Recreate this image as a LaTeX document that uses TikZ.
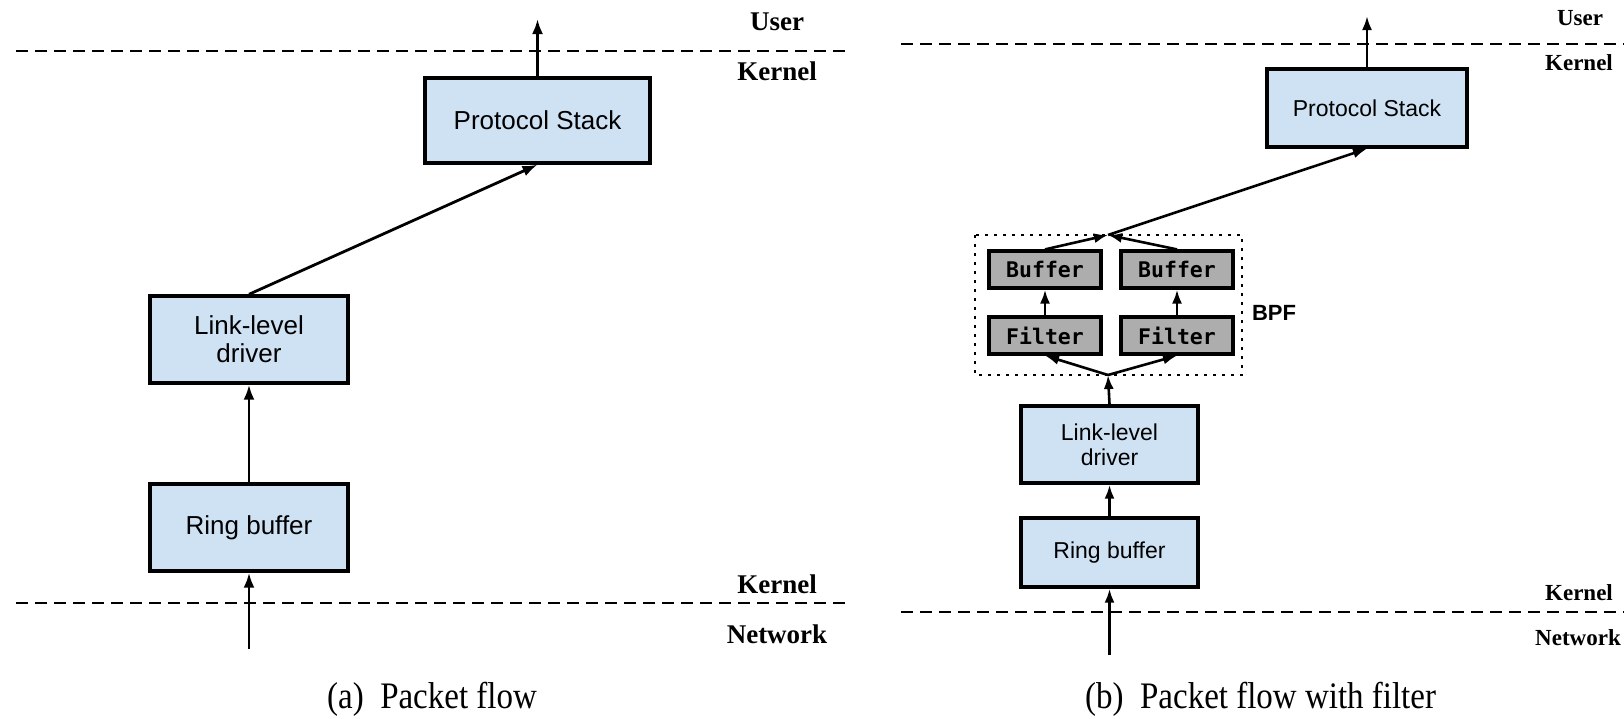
\documentclass[tikz,border=0pt]{standalone}
\usepackage{fontspec}
\setmainfont{Liberation Serif}
\newfontfamily\boxfont{Liberation Sans}
\newfontfamily\monofont{DejaVu Sans Mono}
\usetikzlibrary{arrows.meta}
\definecolor{boxblue}{HTML}{CFE2F3}
\definecolor{boxgray}{HTML}{ADADAD}
\begin{document}
\begin{tikzpicture}[x=1pt,y=-1pt,
  bluebox/.style={draw=black,line width=3.4pt,fill=boxblue,inner sep=0pt,align=center},
  graybox/.style={draw=black,line width=3.2pt,fill=boxgray,inner sep=0pt,
     minimum width=112pt,minimum height=37pt,font=\monofont\bfseries\fontsize{21.5}{24}\selectfont},
  flow/.style={line width=2.8pt,-{Latex[length=15pt,width=11pt]}},
  flowb/.style={line width=2.6pt,-{Latex[length=14pt,width=10pt]}},
  layer/.style={line width=2.8pt,dash pattern=on 12pt off 7pt},
  lbl/.style={font=\bfseries\fontsize{27}{30}\selectfont,inner sep=0pt},
  lblb/.style={font=\bfseries\fontsize{23}{26}\selectfont,inner sep=0pt},
  captxt/.style={font=\fontsize{34}{36}\selectfont,inner sep=0pt}
]
\useasboundingbox (0,0) rectangle (1624,718);
% ---------- left panel ----------
\draw[layer] (16,51) -- (847,51);
\draw[layer] (16,603) -- (847,603);
\node[lbl] (user1) at (777,22) {User};
\node[lbl] (kern1) at (777,71) {Kernel};
\node[lbl] (kern1b) at (777,584) {Kernel};
\node[lbl] (net1) at (777,634) {Network};
\node[bluebox,minimum width=225pt,minimum height=85pt,font=\boxfont\fontsize{26}{28}\selectfont] (ps1) at (537.5,120.5) {Protocol Stack};
\node[bluebox,minimum width=198pt,minimum height=87pt,font=\boxfont\fontsize{26}{28}\selectfont] (ll1) at (249,339.5) {Link-level\\driver};
\node[bluebox,minimum width=198pt,minimum height=87pt,font=\boxfont\fontsize{26}{28}\selectfont] (rb1) at (249,527.5) {Ring buffer};
\coordinate (top1) at (537.5,19);
\coordinate (in1) at (249,649);
\draw[flow] (ps1.north) -- (top1);
\draw[flow] (ll1.north) -- (ps1.south);
\draw[flow] (rb1.north) -- (ll1.south);
\draw[flow] (in1) -- (rb1.south);
\node[captxt] (capa) at (432,699) {\scalebox{0.97}[1.1]{(a)\hspace{0.5em}Packet flow}};
% ---------- right panel ----------
\draw[layer] (901,44) -- (1624,44);
\draw[layer] (901,612) -- (1624,612);
\node[lblb] (user2) at (1580,18) {User};
\node[lblb] (kern2) at (1579,63) {Kernel};
\node[lblb] (kern2b) at (1579,593) {Kernel};
\node[lblb,anchor=west] (net2) at (1535,638) {Network};
\node[bluebox,minimum width=200pt,minimum height=78pt,font=\boxfont\fontsize{23}{25}\selectfont] (ps2) at (1367,108) {Protocol Stack};
\node[bluebox,minimum width=177pt,minimum height=77pt,font=\boxfont\fontsize{23}{25}\selectfont] (ll2) at (1109.5,444.5) {Link-level\\driver};
\node[bluebox,minimum width=177pt,minimum height=69pt,font=\boxfont\fontsize{23}{25}\selectfont] (rb2) at (1109.5,552.5) {Ring buffer};
\draw[line width=2.8pt,dash pattern=on 2.8pt off 6.2pt] (975,235) rectangle (1242,375);
\node[font=\boxfont\bfseries\fontsize{22}{24}\selectfont,inner sep=0pt] (bpf) at (1274,313) {BPF};
\node[graybox] (bufl) at (1045,269.5) {Buffer};
\node[graybox] (bufr) at (1177,269.5) {Buffer};
\node[graybox] (fill) at (1045,335.5) {Filter};
\node[graybox] (filr) at (1177,335.5) {Filter};
\coordinate (jt) at (1108,235);
\coordinate (jb) at (1108,375);
\coordinate (top2) at (1367,16);
\coordinate (in2) at (1109.5,655);
\draw[flowb] (ps2.north) -- (top2);
\draw[flowb] (jt) -- (ps2.south);
\draw[flowb] (bufl.north) -- (jt);
\draw[flowb] (bufr.north) -- (jt);
\draw[flowb] (fill.north) -- (bufl.south);
\draw[flowb] (filr.north) -- (bufr.south);
\draw[flowb] (jb) -- (fill.south);
\draw[flowb] (jb) -- (filr.south);
\draw[flowb] (ll2.north) -- (jb);
\draw[flowb] (rb2.north) -- (ll2.south);
\draw[flowb] (in2) -- (rb2.south);
\node[captxt,anchor=west] (capb) at (1085,699) {\scalebox{0.97}[1.1]{(b)\hspace{0.5em}Packet flow with filter}};
\end{tikzpicture}
\end{document}
